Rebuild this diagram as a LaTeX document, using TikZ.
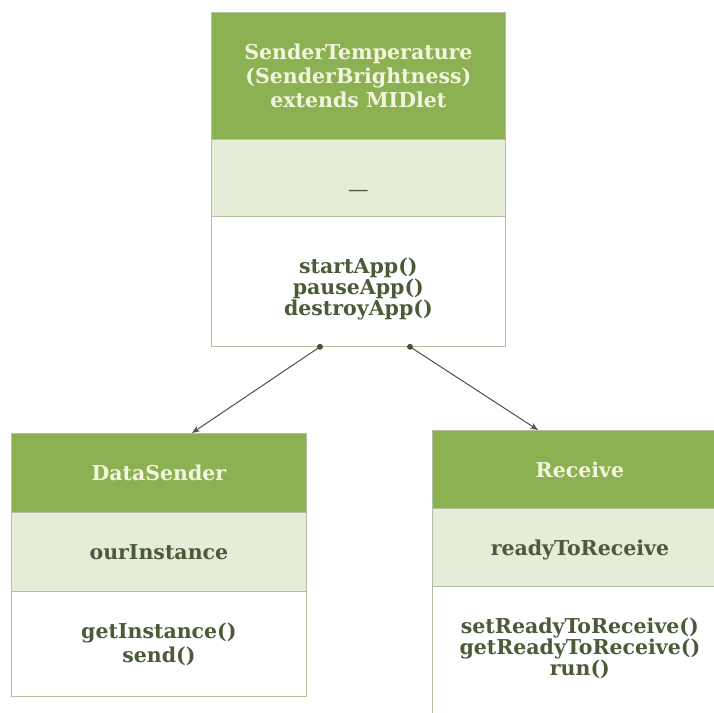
\documentclass[tikz,border=0pt]{standalone}
\usepackage{fontspec}
\setmainfont{DejaVu Serif}
\usetikzlibrary{calc,arrows.meta}
\definecolor{hdr}{HTML}{8CB153}
\definecolor{attr}{HTML}{E5ECD7}
\definecolor{bord}{HTML}{B4BEA2}
\definecolor{htext}{HTML}{F2F6DE}
\definecolor{btext}{HTML}{4B5A38}
\definecolor{conn}{HTML}{4A5343}
\tikzset{
  x=1pt,y=-1pt,
  boxpart/.style={rectangle, draw=bord, line width=0.8pt, anchor=north west, inner sep=0pt},
  hdrpart/.style={boxpart, fill=hdr},
  attrpart/.style={boxpart, fill=attr},
  methpart/.style={boxpart, fill=white},
  txt/.style={inner sep=0pt, align=center, font=\fontsize{20.5}{24}\selectfont\bfseries},
  htxt/.style={txt, text=htext},
  btxt/.style={txt, text=btext},
  conline/.style={draw=conn, line width=1pt, -{Stealth[length=8pt,width=6pt]}},
  condot/.style={circle, fill=conn, inner sep=0pt, minimum size=6pt}
}
\begin{document}
\begin{tikzpicture}
\useasboundingbox (0,0) rectangle (714,712);
\begin{scope}
\clip (0,0) rectangle (714,712);
% top box
\node[hdrpart, minimum width=294pt, minimum height=127pt] (th) at (211,12) {};
\node[attrpart, minimum width=294pt, minimum height=77pt] (ta) at (211,139) {};
\node[methpart, minimum width=294pt, minimum height=130pt] (tm) at (211,216) {};
% left box
\node[hdrpart, minimum width=295pt, minimum height=79pt] (lh) at (11,433) {};
\node[attrpart, minimum width=295pt, minimum height=79pt] (la) at (11,512) {};
\node[methpart, minimum width=295pt, minimum height=105pt] (lm) at (11,591) {};
% right box
\node[hdrpart, minimum width=295pt, minimum height=78pt] (rh) at (432,430) {};
\node[attrpart, minimum width=295pt, minimum height=78pt] (ra) at (432,508) {};
\node[methpart, minimum width=295pt, minimum height=140pt] (rm) at (432,586) {};
\end{scope}
% texts
\node[htxt] (tht) at ($(th.center)+(0,0)$) {SenderTemperature\\(SenderBrightness)\\extends MIDlet};
\node[btxt, font=\fontsize{20.5}{24}\selectfont] (tat) at ($(ta.center)+(0,16)$) {—};
\node[btxt] (tmt) at ($(tm.center)+(0,8)$) {startApp()\\[-3pt]pauseApp()\\[-3pt]destroyApp()};
\node[htxt] (lht) at (lh.center) {DataSender};
\node[btxt] (lat) at (la.center) {ourInstance};
\node[btxt] (lmt) at (lm.center) {getInstance()\\send()};
\node[htxt] (rht) at (rh.center) {Receive};
\node[btxt] (rat) at ($(ra.center)+(0,3)$) {readyToReceive};
\node[btxt] (rmt) at ($(rm.center)+(0,-8)$) {setReadyToReceive()\\[-3pt]getReadyToReceive()\\[-3pt]run()};
% connectors
\coordinate (d1) at ($(tm.south west)+(109,0)$);
\coordinate (d2) at ($(tm.south west)+(199,0)$);
\coordinate (e1) at ($(lh.north west)+(181,0)$);
\coordinate (e2) at ($(rh.north west)+(106,0)$);
\draw[conline] (d1) -- (e1);
\draw[conline] (d2) -- (e2);
\node[condot] (dot1) at (d1) {};
\node[condot] (dot2) at (d2) {};
\end{tikzpicture}
\end{document}
